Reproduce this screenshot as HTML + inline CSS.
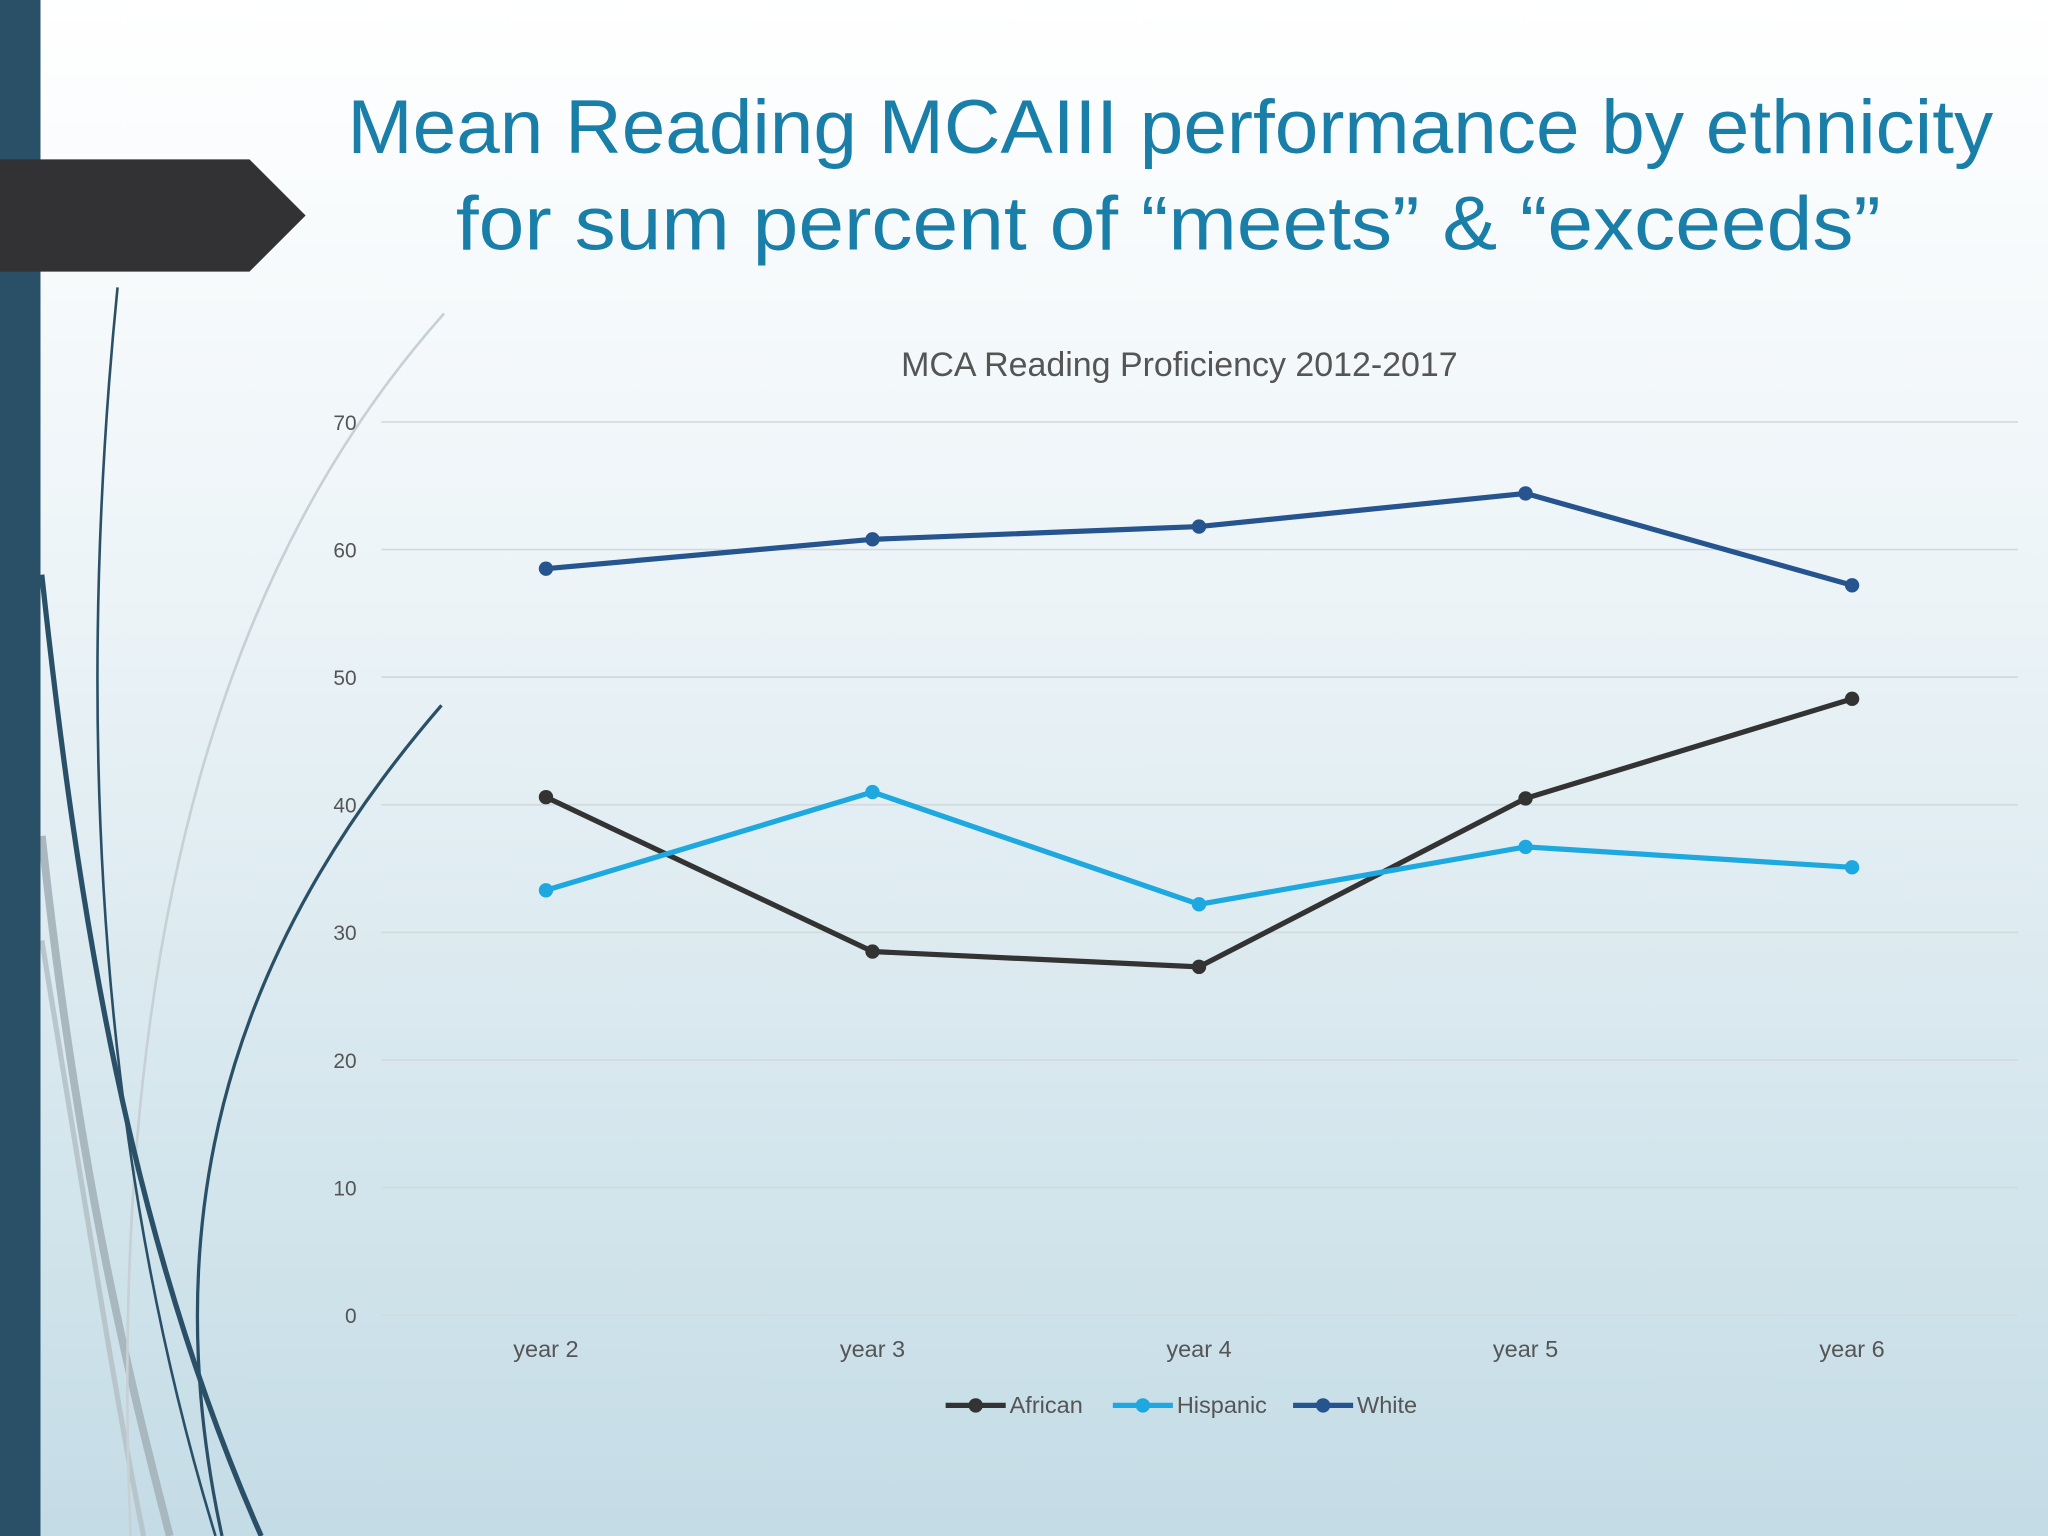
<!DOCTYPE html>
<html><head><meta charset="utf-8"><style>
html,body{margin:0;padding:0;width:2048px;height:1536px;overflow:hidden}
svg{display:block}
text{font-family:"Liberation Sans",sans-serif}
</style></head><body>
<svg width="2048" height="1536" viewBox="0 0 1568 1176" xmlns="http://www.w3.org/2000/svg">
<defs>
<linearGradient id="bg" x1="0" y1="0" x2="0" y2="1">
<stop offset="0" stop-color="#ffffff"/><stop offset="0.35" stop-color="#eef5f8"/><stop offset="1" stop-color="#c4dce6"/>
</linearGradient>
</defs>
<rect width="1568" height="1176" fill="url(#bg)"/>
<g fill="none">
<path d="M32,640 C60,900 100,1060 130,1176" stroke="#a9b8bf" stroke-width="6"/>
<path d="M32,720 C70,950 90,1080 110,1176" stroke="#b8c6cc" stroke-width="4"/>
<path d="M340,240 C180,420 80,700 100,1176" stroke="#c6d0d5" stroke-width="2"/>
<path d="M90,220 C70,420 50,800 165,1176" stroke="#2a5068" stroke-width="2"/>
<path d="M32,440 C60,700 100,950 200,1176" stroke="#2a5068" stroke-width="4"/>
<path d="M338,540 C200,700 110,900 170,1176" stroke="#2a5068" stroke-width="2.5"/>
</g>
<rect x="0" y="0" width="31" height="1176" fill="#2a5068"/>
<polygon points="0,122 191,122 234,165 191,208 0,208" fill="#323234"/>
<text x="266" y="117" textLength="1260" lengthAdjust="spacingAndGlyphs" font-size="58" fill="#1a7fa8">Mean Reading MCAIII performance by ethnicity</text>
<text x="349" y="191" textLength="1091" lengthAdjust="spacingAndGlyphs" font-size="58" fill="#1a7fa8">for sum percent of “meets” &amp; “exceeds”</text>
<text x="903" y="288" text-anchor="middle" font-size="26" fill="#555">MCA Reading Proficiency 2012-2017</text>
<g id="grid"></g><g id="series"></g>
<g font-size="18" fill="#555">
<line x1="724" y1="1076" x2="770" y2="1076" stroke="#333333" stroke-width="4"/><circle cx="747" cy="1076" r="5.5" fill="#333333"/>
<text x="773" y="1082">African</text>
<line x1="852" y1="1076" x2="898" y2="1076" stroke="#1ea8e0" stroke-width="4"/><circle cx="875" cy="1076" r="5.5" fill="#1ea8e0"/>
<text x="901" y="1082">Hispanic</text>
<line x1="990" y1="1076" x2="1036" y2="1076" stroke="#25548f" stroke-width="4"/><circle cx="1013" cy="1076" r="5.5" fill="#25548f"/>
<text x="1039" y="1082">White</text>
</g>
</svg>
<script>
const categories=["year 2","year 3","year 4","year 5","year 6"];
const yTicks=[0,10,20,30,40,50,60,70];
const african=[40.6,28.5,27.3,40.5,48.3];
const hispanic=[33.3,41.0,32.2,36.7,35.1];
const white=[58.5,60.8,61.8,64.4,57.2];
const NS="http://www.w3.org/2000/svg";
function x(i){return 418+i*250;}
function y(v){return 1007-v*9.771;}
function mk(t,a,p){const e=document.createElementNS(NS,t);for(const k in a)e.setAttribute(k,a[k]);p.appendChild(e);return e;}
const g=document.getElementById('grid');
yTicks.forEach(v=>{
 const l=mk('line',{x1:292,x2:1545,y1:y(v),y2:y(v),stroke:'#d3dadd','stroke-width':1.3},g);
 
 
 const t=mk('text',{x:273,y:y(v)+6,'text-anchor':'end','font-size':16,fill:'#555'},g);
 t.textContent=v;
 
 
});
categories.forEach((c,i)=>{
 const t=mk('text',{x:x(i),y:1039,'text-anchor':'middle','font-size':18,fill:'#555'},g);
 t.textContent=c;
 
 
});
const s=document.getElementById('series');
[[african,'#333333','african'],[hispanic,'#1ea8e0','hispanic'],[white,'#25548f','white']].forEach(([d,col,n])=>{
 const p=mk('polyline',{points:d.map((v,i)=>x(i)+','+y(v)).join(' '),fill:'none',stroke:col,'stroke-width':4},s);
 
 
 d.forEach((v,i)=>{
  const c=mk('circle',{cx:x(i),cy:y(v),r:5.5,fill:col},s);
  
  
 });
});
</script>
</body></html>
